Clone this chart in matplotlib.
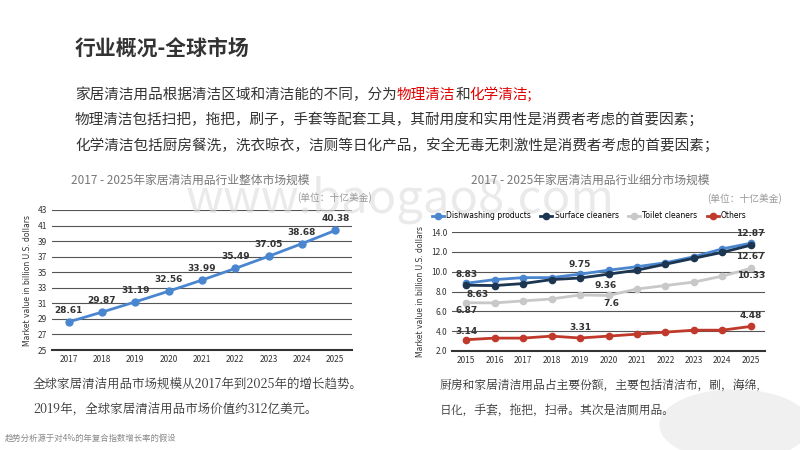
import matplotlib
matplotlib.use("Agg")
import matplotlib.pyplot as plt
from matplotlib.patches import Ellipse

plt.rcParams["font.family"] = ["Noto Sans CJK SC", "DejaVu Sans"]

years_total = ["2017", "2018", "2019", "2020", "2021", "2022", "2023", "2024", "2025"]
total = [28.61, 29.87, 31.19, 32.56, 33.99, 35.49, 37.05, 38.68, 40.38]

years_seg = ["2015", "2016", "2017", "2018", "2019", "2020", "2021", "2022", "2023", "2024", "2025"]
dish = [8.83, 9.2, 9.4, 9.4, 9.75, 10.15, 10.5, 10.9, 11.5, 12.3, 12.87]
surface = [8.63, 8.6, 8.8, 9.2, 9.36, 9.75, 10.15, 10.75, 11.35, 11.95, 12.67]
toilet = [6.87, 6.85, 7.05, 7.25, 7.65, 7.6, 8.25, 8.6, 8.95, 9.55, 10.33]
others = [3.14, 3.3, 3.3, 3.5, 3.31, 3.5, 3.7, 3.9, 4.1, 4.1, 4.48]

W, H = 800, 450
fig = plt.figure(figsize=(8, 4.5), dpi=100)

def fx(x): return x / W
def fy(y): return 1 - y / H

dark = "#333333"
fig.text(fx(75), fy(48), "行业概况-全球市场", fontsize=15, fontweight="bold", color=dark, va="center")

# first line with coloured pieces, placed one after another
renderer = fig.canvas.get_renderer()
pieces = [("家居清洁用品根据清洁区域和清洁能的不同，分为", dark), ("物理清洁", "#e00000"),
          ("和", dark), ("化学清洁;", "#e00000")]
xpos = 75
for s, c in pieces:
    t = fig.text(fx(xpos), fy(95), s, fontsize=10.5, color=c, va="center")
    bb = t.get_window_extent(renderer=renderer)
    xpos += bb.width
fig.text(fx(75), fy(120), "物理清洁包括扫把，拖把，刷子，手套等配套工具，其耐用度和实用性是消费者考虑的首要因素；", fontsize=10.5, color=dark, va="center")
fig.text(fx(75), fy(146), "化学清洁包括厨房餐洗，洗衣晾衣，洁厕等日化产品，安全无毒无刺激性是消费者考虑的首要因素；", fontsize=10.5, color=dark, va="center")

fig.text(fx(190), fy(180), "2017 - 2025年家居清洁用品行业整体市场规模", fontsize=8.5, color="#777777", ha="center", va="center")
fig.text(fx(372), fy(198), "(单位：十亿美金)", fontsize=7, color="#999999", ha="right", va="center")
fig.text(fx(590), fy(180), "2017 - 2025年家居清洁用品行业细分市场规模", fontsize=8.5, color="#777777", ha="center", va="center")
fig.text(fx(782), fy(199), "(单位：十亿美金)", fontsize=7, color="#999999", ha="right", va="center")

fig.text(fx(400), fy(200), "www.baogao8.com", fontsize=34, color="#dddddd", ha="center", va="center", alpha=0.6, zorder=0)

blue = "#4a86d0"
# left chart
ax1 = fig.add_axes([fx(52), fy(350), fx(352 - 52), (350 - 210) / H])
x1 = range(len(years_total))
ax1.plot(x1, total, color=blue, lw=2, marker="o", ms=5)
for i, v in enumerate(total):
    ax1.text(i, v + 0.9, f"{v:.2f}", ha="center", va="bottom", fontsize=6.5, fontweight="bold", color="#333333", family="DejaVu Sans")
ax1.set_ylim(25, 43)
ax1.set_yticks(range(25, 44, 2))
ax1.set_xlim(-0.5, len(years_total) - 0.5)
ax1.set_xticks(list(x1))
ax1.set_xticklabels(years_total)
ax1.grid(axis="y", color="#555555", lw=0.8)
for s in ["top", "right", "left"]:
    ax1.spines[s].set_visible(False)
ax1.spines["bottom"].set_color("#333333")
ax1.spines["bottom"].set_linewidth(1.5)
ax1.tick_params(length=0, labelsize=6, colors="#333333")
ax1.set_ylabel("Market value in billion U.S. dollars", fontsize=5.5, color="#333333", family="DejaVu Sans")
ax1.set_facecolor("none")

# right chart
ax2 = fig.add_axes([fx(452), fy(351), fx(765 - 452), (351 - 232) / H])
x2 = range(len(years_seg))
series = [(dish, "Dishwashing products", blue), (surface, "Surface cleaners", "#1c3550"),
          (toilet, "Toilet cleaners", "#c8c8c8"), (others, "Others", "#c0392b")]
for d, lab, c in series:
    ax2.plot(x2, d, color=c, lw=2, marker="o", ms=4.5, label=lab)
lab_kw = dict(fontsize=6.5, fontweight="bold", color="#333333", family="DejaVu Sans")
ax2.text(0, dish[0] + 0.4, "8.83", ha="center", va="bottom", **lab_kw)
ax2.text(0.4, surface[0] - 0.5, "8.63", ha="center", va="top", **lab_kw)
ax2.text(4, dish[4] + 0.5, "9.75", ha="center", va="bottom", **lab_kw)
ax2.text(4.9, surface[4] - 0.3, "9.36", ha="center", va="top", **lab_kw)
ax2.text(0, toilet[0] - 0.3, "6.87", ha="center", va="top", **lab_kw)
ax2.text(5.1, toilet[5] - 0.4, "7.6", ha="center", va="top", **lab_kw)
ax2.text(0, others[0] + 0.4, "3.14", ha="center", va="bottom", **lab_kw)
ax2.text(4, others[4] + 0.6, "3.31", ha="center", va="bottom", **lab_kw)
ax2.text(10, dish[10] + 0.5, "12.87", ha="center", va="bottom", **lab_kw)
ax2.text(10, surface[10] - 0.7, "12.67", ha="center", va="top", **lab_kw)
ax2.text(10, toilet[10] - 0.3, "10.33", ha="center", va="top", **lab_kw)
ax2.text(10, others[10] + 0.6, "4.48", ha="center", va="bottom", **lab_kw)
ax2.set_ylim(2, 14)
ax2.set_yticks(range(2, 15, 2))
ax2.set_yticklabels([f"{v:.1f}" for v in range(2, 15, 2)])
ax2.set_xlim(-0.5, len(years_seg) - 0.5)
ax2.set_xticks(list(x2))
ax2.set_xticklabels(years_seg)
ax2.grid(axis="y", color="#555555", lw=0.8)
for s in ["top", "right", "left"]:
    ax2.spines[s].set_visible(False)
ax2.spines["bottom"].set_color("#333333")
ax2.spines["bottom"].set_linewidth(1.5)
ax2.tick_params(length=0, labelsize=6, colors="#333333")
ax2.set_ylabel("Market value in billion U.S. dollars", fontsize=5.5, color="#333333", family="DejaVu Sans")
ax2.set_facecolor("none")
ax2.legend(loc="lower left", bbox_to_anchor=(-0.08, 1.06), ncol=4, frameon=False,
           prop={"family": "DejaVu Sans", "size": 5.5}, handlelength=1.6, columnspacing=1.2, handletextpad=0.3, borderaxespad=0.2)

fig.patches.append(Ellipse((fx(735), fy(425)), fx(150), 70 / H, transform=fig.transFigure, color="#f0f0f0", zorder=-1))

fig.text(fx(33), fy(385), "全球家居清洁用品市场规模从2017年到2025年的增长趋势。", fontsize=9, color=dark, va="center", family="Noto Serif CJK SC")
fig.text(fx(33), fy(410), "2019年，全球家居清洁用品市场价值约312亿美元。", fontsize=9, color=dark, va="center", family="Noto Serif CJK SC")
fig.text(fx(440), fy(385), "厨房和家居清洁用品占主要份额，主要包括清洁布，刷，海绵,", fontsize=8.5, color=dark, va="center", family="Noto Serif CJK SC")
fig.text(fx(440), fy(410), "日化，手套，拖把，扫帚。其次是洁厕用品。", fontsize=8.5, color=dark, va="center", family="Noto Serif CJK SC")
fig.text(fx(5), fy(438), "趋势分析源于对4%的年复合指数增长率的假设", fontsize=6, color="#888888", va="center")

fig.savefig("out.png", dpi=100)
